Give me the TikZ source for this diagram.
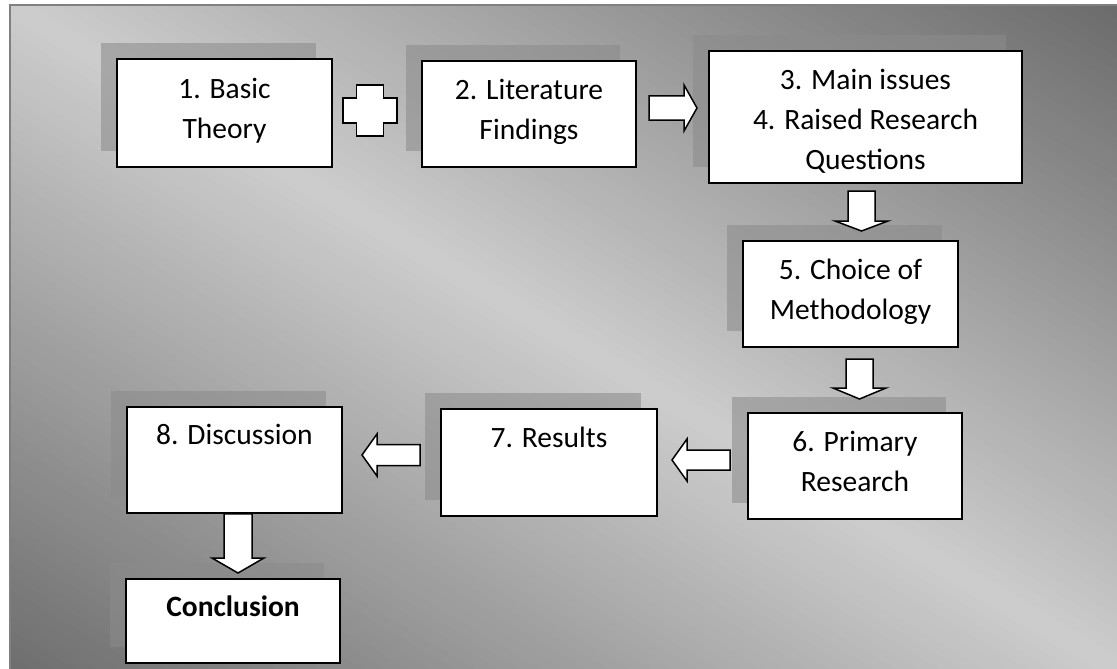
\documentclass[tikz,border=0pt]{standalone}
\usepackage{fontspec}
\setmainfont{Carlito}
\usetikzlibrary{calc,shadows}

\definecolor{framegray}{HTML}{808080}
\definecolor{bgdarkA}{HTML}{6B6B6B}
\definecolor{bgdarkB}{HTML}{6E6E6E}
\definecolor{bglight}{HTML}{CDCDCD}
\definecolor{shadowgray}{HTML}{8B8B8B}

\tikzset{
  stepbox/.style={rectangle, draw=black, line width=1.6pt, fill=white, inner sep=0pt,
    drop shadow={shadow xshift=-16pt, shadow yshift=16pt, fill=shadowgray, opacity=0.56, draw=none}},
  boxlabel/.style={anchor=base, inner sep=0pt, font=\fontsize{29.5}{40}\selectfont},
  blockarrow/.style={draw=black, line width=1.5pt, fill=white, line join=miter},
}

% text of a step, first baseline at the node's base anchor
\newcommand\steptext[1]{\parbox[t]{310pt}{\centering #1}}

% block arrow: tail, tip, shaft half width, head half width, head length
\newcommand\blockarrow[5]{%
  \path ($(#2)!#5!(#1)$) coordinate (hb);
  \draw[blockarrow] ($(#1)!#3!90:(#2)$) -- ($(hb)!#3!90:(#2)$) -- ($(hb)!#4!90:(#2)$) -- (#2)
    -- ($(hb)!#4!-90:(#2)$) -- ($(hb)!#3!-90:(#2)$) -- ($(#1)!#3!-90:(#2)$) -- cycle;}

\begin{document}
\begin{tikzpicture}[x=1pt, y=-1pt]
\useasboundingbox (0,0) rectangle (1117,669);
\fill[white] (0,0) rectangle (1117,669);

% panel: dark towards the top right and bottom left corners,
% light along the diagonal from top left to bottom right (thin bands of u - v)
\begin{scope}
  \clip (10,5) rectangle (1117,669);
  \foreach \i in {0,...,99}{
    \pgfmathsetmacro\ta{-1+\i*0.02}
    \pgfmathsetmacro\tb{\ta+0.023}
    \pgfmathtruncatemacro\p{round(abs(\ta+0.01)*100)}
    \ifnum\i<50 \def\dk{bgdarkB}\else\def\dk{bgdarkA}\fi
    \fill[fill={\dk!\p!bglight}]
      ({10+1107*(\ta-1)},-659) -- ({10+1107*(\ta+2)},1333)
      -- ({10+1107*(\tb+2)},1333) -- ({10+1107*(\tb-1)},-659) -- cycle;
  }
\end{scope}
\draw[framegray, line width=1.2pt] (10,690) -- (10,5) -- (1140,5);

% steps
\node[stepbox, minimum width=215pt, minimum height=108pt] (b1) at (224.5,113) {};
\node[stepbox, minimum width=214pt, minimum height=106pt] (b2) at (529,114) {};
\node[stepbox, minimum width=313pt, minimum height=132pt] (b3) at (865.5,117) {};
\node[stepbox, minimum width=215pt, minimum height=106pt] (b5) at (850.5,294) {};
\node[stepbox, minimum width=214pt, minimum height=106pt] (b6) at (855,466) {};
\node[stepbox, minimum width=216pt, minimum height=107pt] (b7) at (549,462.5) {};
\node[stepbox, minimum width=215pt, minimum height=106pt] (b8) at (234.5,460) {};
\node[stepbox, minimum width=214pt, minimum height=84pt] (bc) at (233,621) {};

\node[boxlabel] (t1) at ($(b1.north)+(0,40)$) {\steptext{1. Basic\\Theory}};
\node[boxlabel] (t2) at ($(b2.north)+(0,39)$) {\steptext{2. Literature\\Findings}};
\node[boxlabel] (t3) at ($(b3.north)+(0,39)$) {\steptext{3. Main issues\\4. Raised Research\\Questions}};
\node[boxlabel] (t5) at ($(b5.north)+(0,39)$) {\steptext{5. Choice of\\Methodology}};
\node[boxlabel] (t6) at ($(b6.north)+(0,39)$) {\steptext{6. Primary\\Research}};
\node[boxlabel] (t7) at ($(b7.north)+(0,39)$) {\steptext{7. Results}};
\node[boxlabel] (t8) at ($(b8.north)+(0,38)$) {\steptext{8. Discussion}};
\node[boxlabel] (tc) at ($(bc.north)+(0,38)$) {\steptext{\bfseries Conclusion}};

% plus sign between the first two steps
\coordinate (plus) at (370,110.5);
\draw[blockarrow] (plus) ++(-13.5,-25.5) -- ++(27,0) -- ++(0,13) -- ++(13.5,0) -- ++(0,25)
  -- ++(-13.5,0) -- ++(0,13) -- ++(-27,0) -- ++(0,-13) -- ++(-13.5,0) -- ++(0,-25)
  -- ++(13.5,0) -- cycle;

% arrow ends
\coordinate (a23t) at (649,108);   \coordinate (a23h) at (697,108);
\coordinate (a35t) at (861.5,191); \coordinate (a35h) at (861.5,231);
\coordinate (a56t) at (859.5,359); \coordinate (a56h) at (859.5,399);
\coordinate (a67t) at (730,460);   \coordinate (a67h) at (672,460);
\coordinate (a78t) at (420,455);   \coordinate (a78h) at (362,455);
\coordinate (a8ct) at ($(b8.south)+(3.5,0)$); \coordinate (a8ch) at (238,573);

\blockarrow{a23t}{a23h}{12pt}{23pt}{13pt}
\blockarrow{a35t}{a35h}{13.5pt}{26.5pt}{10pt}
\blockarrow{a56t}{a56h}{13.5pt}{26.5pt}{11pt}
\blockarrow{a67t}{a67h}{10pt}{21pt}{15pt}
\blockarrow{a78t}{a78h}{10.5pt}{21pt}{15pt}
\blockarrow{a8ct}{a8ch}{14pt}{26pt}{15pt}
\end{tikzpicture}
\end{document}
